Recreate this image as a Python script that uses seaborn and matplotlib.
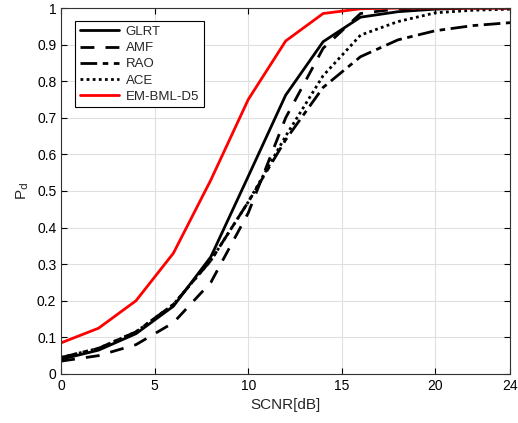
import numpy as np
import pandas as pd
import matplotlib
matplotlib.use('Agg')
import matplotlib.pyplot as plt
import seaborn as sns

# SCNR grid and detection probabilities
snr = [0, 2, 4, 6, 8, 10, 12, 14, 16, 18, 20, 22, 24]
glrt = [0.040, 0.065, 0.110, 0.185, 0.320, 0.540, 0.762, 0.908, 0.975, 0.990, 0.997, 1.000, 1.000]
amf = [0.035, 0.050, 0.080, 0.140, 0.250, 0.440, 0.700, 0.890, 0.985, 0.998, 1.000, 1.000, 1.000]
rao = [0.045, 0.070, 0.115, 0.190, 0.310, 0.470, 0.640, 0.783, 0.867, 0.913, 0.938, 0.952, 0.960]
ace = [0.045, 0.070, 0.115, 0.190, 0.310, 0.470, 0.650, 0.815, 0.926, 0.963, 0.987, 0.994, 0.997]
em = [0.085, 0.125, 0.200, 0.330, 0.530, 0.750, 0.910, 0.985, 0.998, 1.000, 1.000, 1.000, 1.000]

names = ['GLRT', 'AMF', 'RAO', 'ACE', 'EM-BML-D5']
series = [glrt, amf, rao, ace, em]
colors = ['black', 'black', 'black', 'black', 'red']
styles = ['-', (0, (5, 4)), (0, (6, 2, 2, 2)), (0, (1, 1.2)), '-']

sns.set_style('whitegrid')
plt.rcParams['font.family'] = ['Liberation Sans', 'DejaVu Sans']

fig = plt.figure(figsize=(5.18, 4.23), dpi=100)
ax = fig.add_axes([0.118, 0.116, 0.867, 0.865])

for name, vals, c, ls in zip(names, series, colors, styles):
    df = pd.DataFrame({'snr': snr, 'pd': vals})
    sns.lineplot(data=df, x='snr', y='pd', ax=ax, color=c, linestyle=ls,
                 linewidth=2, label=name)

ax.set_xlim(0, 24)
ax.set_ylim(0, 1)
ax.set_xticks([0, 5, 10, 15, 20, 24])
ax.set_yticks(np.arange(0, 1.01, 0.1))
ax.set_yticklabels(['0', '0.1', '0.2', '0.3', '0.4', '0.5', '0.6', '0.7', '0.8', '0.9', '1'])
ax.set_xlabel('SCNR[dB]', fontsize=11)
ax.set_ylabel(r'P$_{\rm d}$', fontsize=11)
ax.tick_params(direction='in', length=4, labelsize=10, colors='black',
               top=True, right=True, bottom=True, left=True)
ax.grid(True, color='#e0e0e0', linewidth=0.8)
for s in ax.spines.values():
    s.set_color('#333333')
    s.set_linewidth(0.8)

leg = ax.legend(loc='upper left', bbox_to_anchor=(0.031, 0.964), fontsize=9.5,
                fancybox=False, edgecolor='black', framealpha=1,
                handlelength=3.0, borderaxespad=0, labelspacing=0.3,
                borderpad=0.35, handletextpad=0.5)
leg.get_frame().set_linewidth(0.8)

fig.savefig('out.png', dpi=100)
